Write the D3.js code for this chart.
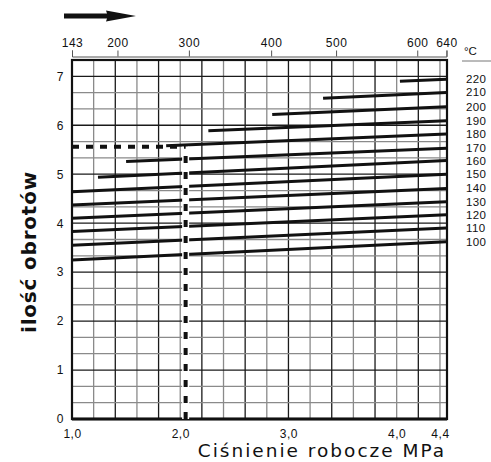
<!DOCTYPE html>
<html>
<head>
<meta charset="utf-8">
<script src="https://cdn.jsdelivr.net/npm/d3@7"></script>
<style>
  body { margin: 0; background: #fff; }
  svg { display: block; }
</style>
</head>
<body>
<script>
// values
var pressureTicks = [1.0, 2.0, 3.0, 4.0, 4.4];
var pressureLabels = ["1,0", "2,0", "3,0", "4,0", "4,4"];
var revTicks = [0, 1, 2, 3, 4, 5, 6, 7];
var topTicks = [143, 200, 300, 400, 500, 600, 640];
var topTickPressure = [1.0, 1.42, 2.08, 2.84, 3.44, 4.19, 4.46];

var temps = [100, 110, 120, 130, 140, 150, 160, 170, 180, 190, 200, 210, 220];
var startPressure = [1.0, 1.0, 1.0, 1.0, 1.0, 1.0, 1.24, 1.5, 1.87, 2.26, 2.85, 3.32, 4.03];
var startRev = [3.25, 3.55, 3.83, 4.10, 4.37, 4.64, 4.94, 5.26, 5.58, 5.89, 6.22, 6.55, 6.90];
var endRev = [3.62, 3.90, 4.17, 4.44, 4.71, 5.00, 5.28, 5.53, 5.82, 6.09, 6.38, 6.67, 6.94];
var endPressure = 4.46;

var guidePressure = 2.05, guideRev = 5.56;

var margin = {top: 60, right: 44, bottom: 43, left: 72},
    width = 491 - margin.left - margin.right,
    height = 462 - margin.top - margin.bottom;

var x = d3.scaleLinear().domain([1.0, 4.465]).range([0, width]);
var y = d3.scaleLinear().domain([0, 7.333]).range([height, 0]);

// top scale (°C) is not linear, map ticks onto pressure positions
var xTop = d3.scaleLinear()
    .domain(topTicks)
    .range(topTickPressure.map(function(p) { return x(p); }));

var svg = d3.select("body").append("svg")
    .attr("width", 491)
    .attr("height", 462);

var g = svg.append("g")
    .attr("transform", "translate(" + margin.left + "," + margin.top + ")");

// grid
var vLines = d3.range(1, 18).map(function(i) { return 1 + i * 0.2; });
var hLines = d3.range(1, 22).map(function(k) { return k / 3; });

g.selectAll(".vgrid")
    .data(vLines)
  .enter().append("line")
    .attr("x1", function(d) { return x(d); })
    .attr("x2", function(d) { return x(d); })
    .attr("y1", 0)
    .attr("y2", height)
    .attr("stroke", function(d, i) { return i % 2 === 0 ? "#8a8a8a" : "#1a1a1a"; })
    .attr("stroke-width", 1.3);

g.selectAll(".hgrid")
    .data(hLines)
  .enter().append("line")
    .attr("x1", 0)
    .attr("x2", width)
    .attr("y1", function(d) { return y(d); })
    .attr("y2", function(d) { return y(d); })
    .attr("stroke", function(d, i) { return (i + 1) % 3 === 0 ? "#1a1a1a" : "#8a8a8a"; })
    .attr("stroke-width", 1.3);

// frame
g.append("rect")
    .attr("x", 0)
    .attr("y", 0)
    .attr("width", width)
    .attr("height", height)
    .attr("fill", "none")
    .attr("stroke", "#111")
    .attr("stroke-width", 2.2);

g.append("line")
    .attr("x1", 0).attr("x2", width)
    .attr("y1", height).attr("y2", height)
    .attr("stroke", "#111")
    .attr("stroke-width", 3);

// temperature lines
var lines = temps.map(function(t, i) {
  return {t: t, p0: startPressure[i], r0: startRev[i], p1: endPressure, r1: endRev[i]};
});

g.selectAll(".temp")
    .data(lines)
  .enter().append("line")
    .attr("class", "temp")
    .attr("x1", function(d) { return x(d.p0); })
    .attr("y1", function(d) { return y(d.r0); })
    .attr("x2", function(d) { return x(d.p1); })
    .attr("y2", function(d) { return y(d.r1); })
    .attr("stroke", "#111")
    .attr("stroke-width", 3);

// dashed reading guide
g.append("line")
    .attr("x1", x(guidePressure)).attr("x2", x(guidePressure))
    .attr("y1", y(0)).attr("y2", y(guideRev))
    .attr("stroke", "#fff")
    .attr("stroke-width", 7);
g.append("line")
    .attr("x1", x(guidePressure)).attr("x2", x(guidePressure))
    .attr("y1", y(0)).attr("y2", y(guideRev))
    .attr("stroke", "#111")
    .attr("stroke-width", 4)
    .attr("stroke-dasharray", "7,9");
g.append("line")
    .attr("x1", x(1.0)).attr("x2", x(guidePressure))
    .attr("y1", y(guideRev)).attr("y2", y(guideRev))
    .attr("stroke", "#111")
    .attr("stroke-width", 4)
    .attr("stroke-dasharray", "7,7");

// right labels
g.selectAll(".tlabel")
    .data(lines)
  .enter().append("text")
    .attr("x", width + 19)
    .attr("y", function(d) { return y(d.r1) + 4; })
    .attr("font-family", "Liberation Sans, Arial, sans-serif")
    .attr("font-size", "11.5px")
    .attr("letter-spacing", "0.4")
    .attr("fill", "#111")
    .text(function(d) { return d.t; });

svg.append("text")
    .attr("x", 464)
    .attr("y", 55)
    .attr("font-family", "Liberation Sans, Arial, sans-serif")
    .attr("font-size", "11.5px")
    .attr("fill", "#111")
    .text("°C");

svg.append("line")
    .attr("x1", 462).attr("x2", 491)
    .attr("y1", 61).attr("y2", 61)
    .attr("stroke", "#777")
    .attr("stroke-width", 1);

// axes
var xAxis = g.append("g")
    .attr("transform", "translate(0," + height + ")")
    .call(d3.axisBottom(x).tickValues(pressureTicks)
      .tickFormat(function(d, i) { return pressureLabels[i]; })
      .tickSize(0).tickPadding(10));
xAxis.select(".domain").remove();

var yAxis = g.append("g")
    .call(d3.axisLeft(y).tickValues(revTicks).tickSize(0).tickPadding(8));
yAxis.select(".domain").remove();

var topAxis = svg.append("g")
    .attr("transform", "translate(" + margin.left + ",56.5)")
    .call(d3.axisTop(xTop).tickValues(topTicks).tickSizeOuter(0).tickSize(6).tickPadding(4));
topAxis.select(".domain").attr("stroke", "#555");
topAxis.selectAll(".tick line").attr("stroke", "#555");

[xAxis, yAxis, topAxis].forEach(function(a) {
  a.selectAll("text")
    .attr("font-family", "Liberation Sans, Arial, sans-serif")
    .attr("font-size", "12px")
    .attr("letter-spacing", "0.5")
    .attr("fill", "#111");
});

// titles
svg.append("text")
    .attr("x", 322)
    .attr("y", 457)
    .attr("text-anchor", "middle")
    .attr("font-family", "DejaVu Sans, Verdana, sans-serif")
    .attr("font-size", "18.5px")
    .attr("letter-spacing", "2")
    .attr("fill", "#111")
    .text("Ciśnienie robocze MPa");

svg.append("text")
    .attr("transform", "translate(36,252) rotate(-90)")
    .attr("text-anchor", "middle")
    .attr("font-family", "DejaVu Sans, Verdana, sans-serif")
    .attr("font-weight", "bold")
    .attr("font-size", "20px")
    .attr("letter-spacing", "0.8")
    .attr("fill", "#111")
    .text("ilość obrotów");

// direction arrow
svg.append("path")
    .attr("d", "M64,13.5 L107,13.5 L106,10.5 L136,16 L106,21.5 L107,18.5 L64,18.5 Z")
    .attr("fill", "#111");
</script>
</body>
</html>
